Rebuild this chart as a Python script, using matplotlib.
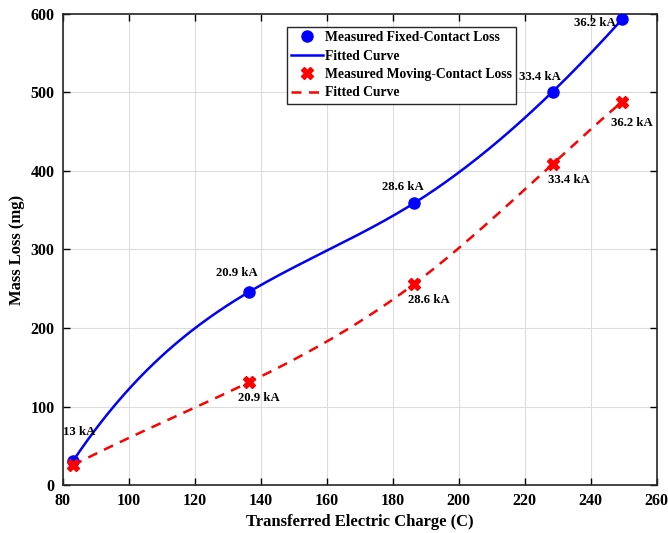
import numpy as np
import matplotlib.pyplot as plt

# Measured data
charge_fixed = [83, 136.5, 186.5, 228.5, 249.5]
loss_fixed = [30, 246, 359, 501, 593]
charge_moving = [83, 136.5, 186.5, 228.5, 249.5]
loss_moving = [25, 131, 256, 409, 488]
currents = ['13 kA', '20.9 kA', '28.6 kA', '33.4 kA', '36.2 kA']


def notaknot_spline(x, y, xs):
    # not-a-knot cubic spline through 5 points = cubic + one knot at the middle point
    x = np.asarray(x, float)
    y = np.asarray(y, float)
    k = x[len(x) // 2]
    def basis(t):
        t = np.asarray(t, float)
        return np.column_stack([np.ones_like(t), t, t**2, t**3, np.clip(t - k, 0, None)**3])
    coef = np.linalg.lstsq(basis(x), y, rcond=None)[0]
    return basis(xs) @ coef


plt.rcParams['font.family'] = ['Liberation Serif', 'DejaVu Serif']
plt.rcParams['font.weight'] = 'bold'

fig = plt.figure(figsize=(6.68, 5.33), dpi=100)
ax = fig.add_axes([0.094, 0.090, 0.889, 0.884])

xs = np.linspace(charge_fixed[0], charge_fixed[-1], 300)
ax.plot(charge_fixed, loss_fixed, 'o', color='#0000ff', markersize=8, label='Measured Fixed-Contact Loss', zorder=4)
ax.plot(xs, notaknot_spline(charge_fixed, loss_fixed, xs), '-', color='#0000ff', lw=1.8, label='Fitted Curve', zorder=3)
ax.plot(charge_moving, loss_moving, 'X', color='#ff0000', markersize=8, label='Measured Moving-Contact Loss', zorder=4)
xm = np.linspace(charge_moving[0], charge_moving[-1], 300)
ax.plot(xm, notaknot_spline(charge_moving, loss_moving, xm), '--', color='#ff0000', lw=1.8,
        dashes=(4, 3), label='Fitted Curve', zorder=3)

# current labels
fixed_label_pos = [(85, 67), (132.7, 270), (183, 380), (224.6, 520), (241.4, 588)]
moving_label_pos = [(139.3, 111), (191, 236), (233.4, 389), (252.5, 461)]
for (lx, ly), txt in zip(fixed_label_pos, currents):
    ax.text(lx, ly, txt, ha='center', va='center', fontsize=9.2, fontweight='bold')
for (lx, ly), txt in zip(moving_label_pos, currents[1:]):
    ax.text(lx, ly, txt, ha='center', va='center', fontsize=9.2, fontweight='bold')

ax.set_xlim(80, 260)
ax.set_ylim(0, 600)
ax.set_xticks(np.arange(80, 261, 20))
ax.set_yticks(np.arange(0, 601, 100))
ax.grid(True, color='#dcdcdc', lw=0.8)
ax.set_axisbelow(True)
ax.tick_params(direction='in', top=True, right=True, labelsize=11.5, length=5, width=1, pad=6)
for lab in ax.get_xticklabels() + ax.get_yticklabels():
    lab.set_fontweight('bold')
for s in ax.spines.values():
    s.set_linewidth(1.2)
    s.set_color('#262626')

ax.set_xlabel('Transferred Electric Charge (C)', fontsize=12, fontweight='bold', labelpad=3)
ax.set_ylabel('Mass Loss (mg)', fontsize=12, fontweight='bold', labelpad=4)

leg = ax.legend(loc='upper left', bbox_to_anchor=(0.377, 0.972), fontsize=9.8, frameon=True,
                fancybox=False, framealpha=1, edgecolor='#262626', handlelength=2.4,
                borderpad=0.3, borderaxespad=0, labelspacing=0.4, handletextpad=0.1)
leg.get_frame().set_linewidth(1.0)
for t in leg.get_texts():
    t.set_fontweight('bold')

fig.savefig('out.png', dpi=100)
